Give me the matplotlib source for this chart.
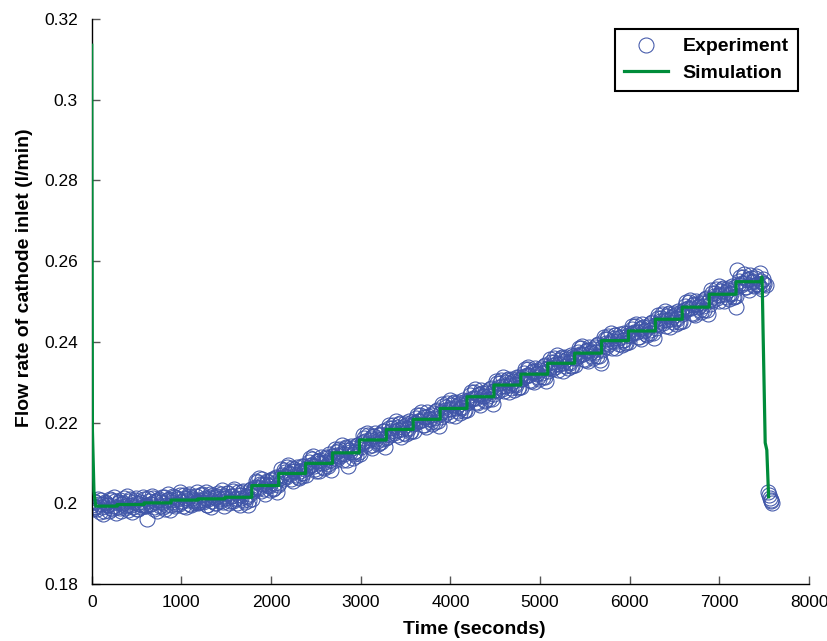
import numpy as np
import matplotlib
matplotlib.use("Agg")
import matplotlib.pyplot as plt

plt.rcParams['font.family'] = ['Liberation Sans', 'DejaVu Sans']

# ---------------- data ----------------
# Experiment, first set of samples: t = 0, 20, 40, ... 7480 s
exp_time_a = np.arange(0, 7500, 20)
exp_flow_a = [
    0.1995, 0.1990, 0.2003, 0.1985, 0.1998, 0.2008, 0.1992, 0.1980, 0.2001, 0.1996, 0.2010, 0.1988, 0.1994, 0.2005, 0.1991,
    0.2002, 0.1989, 0.1999, 0.2012, 0.1993, 0.1984, 0.2005, 0.1997, 0.1990, 0.2008, 0.2000, 0.1986, 0.2003, 0.1995, 0.2011,
    0.1995, 0.1960, 0.2006, 0.1998, 0.2012, 0.1990, 0.2003, 0.2009, 0.1994, 0.2015, 0.2000, 0.1987, 0.2007, 0.2011, 0.1996,
    0.2004, 0.2016, 0.1998, 0.2010, 0.2021, 0.2002, 0.1993, 0.2012, 0.2007, 0.2019, 0.1999, 0.2013, 0.2005, 0.2017, 0.2001,
    0.2008, 0.2020, 0.2003, 0.2014, 0.1997, 0.2011, 0.2024, 0.2006, 0.2015, 0.2000, 0.2018, 0.2010, 0.2022, 0.2004, 0.2013,
    0.2012, 0.2025, 0.2006, 0.2018, 0.2030, 0.2010, 0.2001, 0.2020, 0.2014, 0.2027, 0.2008, 0.2017, 0.1995, 0.2023, 0.2035,
    0.2030, 0.2040, 0.2052, 0.2038, 0.2047, 0.2060, 0.2035, 0.2049, 0.2055, 0.2042, 0.2058, 0.2036, 0.2050, 0.2063, 0.2045,
    0.2062, 0.2070, 0.2083, 0.2068, 0.2090, 0.2075, 0.2060, 0.2079, 0.2086, 0.2071, 0.2066, 0.2081, 0.2093, 0.2074, 0.2085,
    0.2088, 0.2103, 0.2095, 0.2110, 0.2092, 0.2080, 0.2106, 0.2099, 0.2115, 0.2090, 0.2102, 0.2112, 0.2097, 0.2108, 0.2118,
    0.2113, 0.2128, 0.2119, 0.2135, 0.2122, 0.2108, 0.2131, 0.2140, 0.2092, 0.2126, 0.2137, 0.2121, 0.2130, 0.2145, 0.2128,
    0.2140, 0.2152, 0.2163, 0.2148, 0.2170, 0.2158, 0.2145, 0.2166, 0.2175, 0.2155, 0.2149, 0.2168, 0.2160, 0.2178, 0.2162,
    0.2172, 0.2186, 0.2178, 0.2195, 0.2180, 0.2168, 0.2190, 0.2200, 0.2183, 0.2175, 0.2193, 0.2187, 0.2205, 0.2179, 0.2196,
    0.2198, 0.2212, 0.2203, 0.2220, 0.2206, 0.2193, 0.2215, 0.2225, 0.2209, 0.2201, 0.2218, 0.2211, 0.2228, 0.2204, 0.2222,
    0.2225, 0.2240, 0.2231, 0.2248, 0.2233, 0.2220, 0.2243, 0.2252, 0.2236, 0.2228, 0.2246, 0.2239, 0.2255, 0.2230, 0.2249,
    0.2252, 0.2268, 0.2259, 0.2276, 0.2261, 0.2248, 0.2271, 0.2280, 0.2265, 0.2256, 0.2274, 0.2267, 0.2284, 0.2258, 0.2278,
    0.2281, 0.2297, 0.2288, 0.2305, 0.2290, 0.2277, 0.2300, 0.2309, 0.2294, 0.2285, 0.2303, 0.2296, 0.2313, 0.2287, 0.2307,
    0.2308, 0.2324, 0.2315, 0.2332, 0.2317, 0.2304, 0.2327, 0.2336, 0.2321, 0.2312, 0.2330, 0.2323, 0.2340, 0.2314, 0.2334,
    0.2335, 0.2351, 0.2342, 0.2359, 0.2344, 0.2331, 0.2354, 0.2363, 0.2348, 0.2339, 0.2357, 0.2350, 0.2367, 0.2341, 0.2361,
    0.2360, 0.2376, 0.2367, 0.2384, 0.2369, 0.2356, 0.2379, 0.2388, 0.2373, 0.2364, 0.2382, 0.2375, 0.2392, 0.2366, 0.2348,
    0.2390, 0.2406, 0.2397, 0.2414, 0.2399, 0.2386, 0.2409, 0.2418, 0.2403, 0.2394, 0.2412, 0.2405, 0.2422, 0.2396, 0.2416,
    0.2415, 0.2431, 0.2422, 0.2439, 0.2424, 0.2411, 0.2434, 0.2443, 0.2428, 0.2419, 0.2437, 0.2430, 0.2447, 0.2421, 0.2441,
    0.2444, 0.2460, 0.2451, 0.2468, 0.2453, 0.2440, 0.2463, 0.2472, 0.2457, 0.2448, 0.2466, 0.2459, 0.2476, 0.2450, 0.2470,
    0.2474, 0.2490, 0.2481, 0.2498, 0.2483, 0.2470, 0.2493, 0.2502, 0.2487, 0.2478, 0.2496, 0.2489, 0.2506, 0.2480, 0.2500,
    0.2506, 0.2522, 0.2513, 0.2530, 0.2515, 0.2502, 0.2525, 0.2534, 0.2519, 0.2510, 0.2528, 0.2521, 0.2538, 0.2512, 0.2486,
    0.2578, 0.2552, 0.2540, 0.2560, 0.2546, 0.2535, 0.2555, 0.2566, 0.2549, 0.2541, 0.2558, 0.2544, 0.2538, 0.2552, 0.2545,
]
# Experiment, second set of samples: t = 10, 30, 50, ... 7490 s
exp_time_b = np.arange(10, 7500, 20)
exp_flow_b = [
    0.1985, 0.2005, 0.1990, 0.2011, 0.1979, 0.1998, 0.1973, 0.2002, 0.1995, 0.1982, 0.2008, 0.1987, 0.2015, 0.1976, 0.2000,
    0.2007, 0.1982, 0.2001, 0.1988, 0.2017, 0.1995, 0.2010, 0.1979, 0.2003, 0.2013, 0.1985, 0.1998, 0.1990, 0.2016, 0.1993,
    0.1993, 0.2013, 0.1998, 0.2019, 0.1987, 0.2006, 0.1981, 0.2010, 0.2003, 0.1990, 0.2016, 0.1995, 0.2023, 0.1984, 0.2008,
    0.2018, 0.1993, 0.2012, 0.1999, 0.2028, 0.2006, 0.2021, 0.1990, 0.2014, 0.2024, 0.1996, 0.2009, 0.2001, 0.2027, 0.2004,
    0.2003, 0.2023, 0.2008, 0.2029, 0.1997, 0.2016, 0.1991, 0.2020, 0.2013, 0.2000, 0.2026, 0.2005, 0.2033, 0.1994, 0.2018,
    0.2025, 0.2000, 0.2019, 0.2006, 0.2035, 0.2013, 0.2028, 0.1997, 0.2021, 0.2031, 0.2003, 0.2016, 0.2008, 0.2034, 0.2011,
    0.2036, 0.2056, 0.2041, 0.2062, 0.2030, 0.2049, 0.2024, 0.2053, 0.2046, 0.2033, 0.2059, 0.2038, 0.2066, 0.2027, 0.2051,
    0.2084, 0.2059, 0.2078, 0.2065, 0.2094, 0.2072, 0.2087, 0.2056, 0.2080, 0.2090, 0.2062, 0.2075, 0.2067, 0.2093, 0.2070,
    0.2091, 0.2111, 0.2096, 0.2117, 0.2085, 0.2104, 0.2079, 0.2108, 0.2101, 0.2088, 0.2114, 0.2093, 0.2121, 0.2082, 0.2106,
    0.2135, 0.2110, 0.2129, 0.2116, 0.2145, 0.2123, 0.2138, 0.2107, 0.2131, 0.2141, 0.2113, 0.2126, 0.2118, 0.2144, 0.2121,
    0.2149, 0.2169, 0.2154, 0.2175, 0.2143, 0.2162, 0.2137, 0.2166, 0.2159, 0.2146, 0.2172, 0.2151, 0.2179, 0.2140, 0.2164,
    0.2193, 0.2168, 0.2187, 0.2174, 0.2203, 0.2181, 0.2196, 0.2165, 0.2189, 0.2199, 0.2171, 0.2184, 0.2176, 0.2202, 0.2179,
    0.2200, 0.2220, 0.2205, 0.2226, 0.2194, 0.2213, 0.2188, 0.2217, 0.2210, 0.2197, 0.2223, 0.2202, 0.2230, 0.2191, 0.2215,
    0.2245, 0.2220, 0.2239, 0.2226, 0.2255, 0.2233, 0.2248, 0.2217, 0.2241, 0.2251, 0.2223, 0.2236, 0.2228, 0.2254, 0.2231,
    0.2256, 0.2276, 0.2261, 0.2282, 0.2250, 0.2269, 0.2244, 0.2273, 0.2266, 0.2253, 0.2279, 0.2258, 0.2286, 0.2247, 0.2271,
    0.2303, 0.2278, 0.2297, 0.2284, 0.2313, 0.2291, 0.2306, 0.2275, 0.2299, 0.2309, 0.2281, 0.2294, 0.2286, 0.2312, 0.2289,
    0.2312, 0.2332, 0.2317, 0.2338, 0.2306, 0.2325, 0.2300, 0.2329, 0.2322, 0.2309, 0.2335, 0.2314, 0.2342, 0.2303, 0.2327,
    0.2357, 0.2332, 0.2351, 0.2338, 0.2367, 0.2345, 0.2360, 0.2329, 0.2353, 0.2363, 0.2335, 0.2348, 0.2340, 0.2366, 0.2343,
    0.2364, 0.2384, 0.2369, 0.2390, 0.2358, 0.2377, 0.2352, 0.2381, 0.2374, 0.2361, 0.2387, 0.2366, 0.2394, 0.2355, 0.2379,
    0.2413, 0.2388, 0.2407, 0.2394, 0.2423, 0.2401, 0.2416, 0.2385, 0.2409, 0.2419, 0.2391, 0.2404, 0.2396, 0.2422, 0.2399,
    0.2419, 0.2439, 0.2424, 0.2445, 0.2413, 0.2432, 0.2407, 0.2436, 0.2429, 0.2416, 0.2442, 0.2421, 0.2449, 0.2410, 0.2434,
    0.2466, 0.2441, 0.2460, 0.2447, 0.2476, 0.2454, 0.2469, 0.2438, 0.2462, 0.2472, 0.2444, 0.2457, 0.2449, 0.2475, 0.2452,
    0.2478, 0.2498, 0.2483, 0.2504, 0.2472, 0.2491, 0.2466, 0.2495, 0.2488, 0.2475, 0.2501, 0.2480, 0.2508, 0.2469, 0.2493,
    0.2528, 0.2503, 0.2522, 0.2509, 0.2538, 0.2516, 0.2531, 0.2500, 0.2524, 0.2534, 0.2506, 0.2519, 0.2511, 0.2537, 0.2514,
    0.2541, 0.2561, 0.2546, 0.2567, 0.2535, 0.2554, 0.2529, 0.2558, 0.2551, 0.2538, 0.2564, 0.2543, 0.2571, 0.2532, 0.2556,
]
# Experiment, samples after the flow cut
exp_time_c = [7500, 7520, 7540, 7550, 7560, 7570, 7580, 7590]
exp_flow_c = [0.2543, 0.2540, 0.2028, 0.2020, 0.2012, 0.2005, 0.2008, 0.2000]

# Simulation: start-up transient, stepwise plateaus, shut-down transient
sim_start_time = [0, 8, 25, 45]
sim_start_flow = [0.3135, 0.2180, 0.2030, 0.1993]
sim_step_time = [45, 285, 585, 885, 1185, 1485, 1785, 2085, 2385, 2685, 2985, 3285, 3585,
                 3885, 4185, 4485, 4785, 5085, 5385, 5685, 5985, 6285, 6585, 6885, 7185]
sim_step_flow = [0.1993, 0.1997, 0.2001, 0.2008, 0.2011, 0.2015, 0.2044, 0.2074, 0.2099,
                 0.2125, 0.2157, 0.2183, 0.2208, 0.2235, 0.2264, 0.2293, 0.2320, 0.2347,
                 0.2372, 0.2403, 0.2427, 0.2456, 0.2486, 0.2518, 0.2549]
sim_end_time = [7460, 7472, 7476, 7486, 7510, 7528, 7548]
sim_end_flow = [0.2549, 0.2561, 0.2555, 0.2430, 0.2150, 0.2132, 0.2016]

x_ticks = [0, 1000, 2000, 3000, 4000, 5000, 6000, 7000, 8000]
y_ticks = [0.18, 0.2, 0.22, 0.24, 0.26, 0.28, 0.3, 0.32]
y_tick_labels = ['0.18', '0.2', '0.22', '0.24', '0.26', '0.28', '0.3', '0.32']

# build simulation polyline
sim_t = list(sim_start_time)
sim_v = list(sim_start_flow)
for i, lvl in enumerate(sim_step_flow):
    t0 = sim_step_time[i]
    t1 = sim_step_time[i + 1] if i + 1 < len(sim_step_time) else sim_end_time[0]
    sim_t += [t0, t1]
    sim_v += [lvl, lvl]
sim_t += sim_end_time
sim_v += sim_end_flow

exp_t = list(exp_time_a) + list(exp_time_b) + exp_time_c
exp_v = list(exp_flow_a) + list(exp_flow_b) + exp_flow_c

# ---------------- plot ----------------
fig = plt.figure(figsize=(8.27, 6.41), dpi=100)
ax = fig.add_axes([0.1109, 0.0889, 0.8675, 0.8815])

blue = '#3F55A8'
green = '#008C3A'

ax.plot(exp_t, exp_v, linestyle='none', marker='o', markersize=10.8,
        markerfacecolor='none', markeredgecolor=blue, markeredgewidth=0.75,
        label='Experiment', zorder=2)
ax.plot(sim_t, sim_v, color=green, linewidth=2.3, label='Simulation', zorder=3)

ax.set_xlim(0, 8000)
ax.set_ylim(0.18, 0.32)
ax.set_xticks(x_ticks)
ax.set_xticklabels([str(t) for t in x_ticks])
ax.set_yticks(y_ticks)
ax.set_yticklabels(y_tick_labels)

for s in ['top', 'right']:
    ax.spines[s].set_visible(False)
for s in ['left', 'bottom']:
    ax.spines[s].set_linewidth(1.0)
    ax.spines[s].set_color('black')

ax.tick_params(direction='in', length=5.8, width=1.0, color='#555555',
               labelsize=12.5, labelcolor='black')
ax.tick_params(axis='x', pad=8)
ax.tick_params(axis='y', pad=10)

ax.set_xlabel('Time (seconds)', fontsize=14, fontweight='bold')
ax.set_ylabel('Flow rate of cathode inlet (l/min)', fontsize=14, fontweight='bold')
ax.xaxis.set_label_coords(0.5326, -0.065)
ax.yaxis.set_label_coords(-0.082, 0.543)

leg = ax.legend(loc='upper right', bbox_to_anchor=(0.9646, 0.9548),
                bbox_transform=fig.transFigure, frameon=True, fancybox=False,
                edgecolor='black', framealpha=1, prop={'weight': 'bold', 'size': 14},
                handlelength=2.3, handletextpad=0.75, borderpad=0.45, labelspacing=0.46,
                borderaxespad=0)
leg.get_frame().set_linewidth(1.5)

fig.savefig('out.png', dpi=100)
